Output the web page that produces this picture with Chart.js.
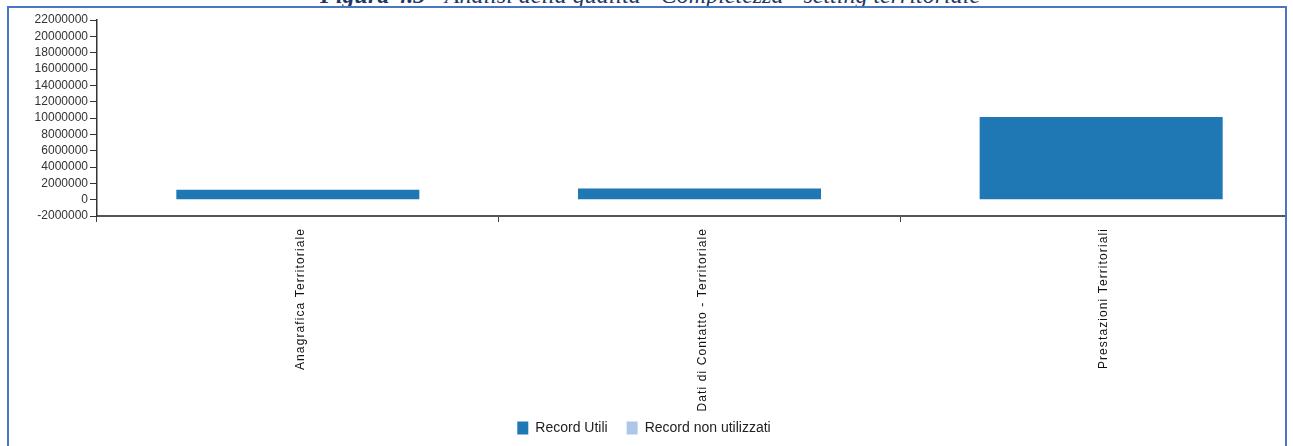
<!DOCTYPE html>
<html>
<head>
<meta charset="utf-8">
<script src="https://cdn.jsdelivr.net/npm/chart.js@4.4.1/dist/chart.umd.min.js"></script>
<style>
  html, body { margin: 0; padding: 0; background: #fff; }
  #wrap { position: relative; width: 1293px; height: 446px; overflow: hidden; }
  #frame { position: absolute; left: 7px; top: 6px; width: 1280px; height: 460px;
           border: 2px solid #4a74c4; border-bottom: none; box-sizing: border-box; }
  #cover { position: absolute; left: 1287px; top: 0; width: 20px; height: 446px; background: #fff; }
  #title { position: absolute; left: 0; width: 1300px; top: -18px; text-align: center; white-space: nowrap;
           font: italic 24px "Liberation Serif", "DejaVu Serif", serif; color: #1f3864; }
  #title b { font-weight: bold; }
  #chart { position: absolute; left: 0; top: 0; }
</style>
</head>
<body>
<div id="wrap">
  <div id="title"><b>Figura 4.3</b> - Analisi della qualità - Completezza - setting territoriale</div>
  <canvas id="chart" width="1302" height="446"></canvas>
  <div id="cover"></div>
  <div id="frame"></div>
</div>
<script>
var categories = ['Anagrafica Territoriale', 'Dati di Contatto - Territoriale', 'Prestazioni Territoriali'];
var recordUtili = [1220000, 1380000, 10120000];
var recordNonUtilizzati = [0, 0, 0];
var yMin = -2000000;
var yMax = 22000000;
var yStep = 2000000;

// spaced-out, unclipped category labels and a legend nudged left, like the original
var tweaks = {
    id: 'tweaks',
    afterLayout: function (chart) {
        var s = chart.scales.x;
        if (!s._spaced) {
            var orig = s.drawLabels;
            s._computeLabelArea = function () { return undefined; };
            s.drawLabels = function (area) {
                this.ctx.save();
                this.ctx.letterSpacing = '1.1px';
                orig.call(this, area);
                this.ctx.restore();
            };
            s._spaced = true;
        }
        var lg = chart.legend;
        if (lg && !lg._nudged) {
            var origDraw = lg.draw;
            lg.draw = function () {
                this.ctx.save();
                this.ctx.translate(-7, 0);
                origDraw.apply(this, arguments);
                this.ctx.restore();
            };
            lg._nudged = true;
        }
    }
};

var ctx = document.getElementById('chart');
var chart = new Chart(ctx, {
    type: 'bar',
    data: {
        labels: categories,
        datasets: [{
            label: 'Record Utili',
            data: recordUtili,
            backgroundColor: '#1f77b4',
            borderWidth: 0
        }, {
            label: 'Record non utilizzati',
            data: recordNonUtilizzati,
            backgroundColor: '#aec7e8',
            borderWidth: 0
        }]
    },
    options: {
        responsive: false,
        animation: false,
        barPercentage: 0.605,
        categoryPercentage: 1.0,
        layout: { padding: { top: 20, right: 0, left: 0, bottom: 1 } },
        scales: {
            x: {
                stacked: true,
                grid: { drawOnChartArea: false, tickLength: 6, color: '#444', offset: true },
                border: { color: '#555', width: 2 },
                ticks: {
                    minRotation: 90, maxRotation: 90, padding: 6, autoSkip: false, labelOffset: 3,
                    color: '#111', font: { family: 'Arial, "Liberation Sans"', size: 12 }
                },
                afterFit: function (scale) { scale.height = 186; }
            },
            y: {
                stacked: true,
                min: yMin,
                max: yMax,
                grid: { drawOnChartArea: false, tickLength: 7, color: '#333' },
                border: { color: '#333', width: 1.5 },
                ticks: {
                    stepSize: yStep, autoSkip: false, padding: 2,
                    color: '#333', font: { family: 'Arial, "Liberation Sans"', size: 12 },
                    callback: function (v) { return String(v); }
                },
                afterFit: function (scale) { scale.width = 97; }
            }
        },
        plugins: {
            tooltip: { enabled: false },
            legend: {
                position: 'bottom',
                labels: {
                    boxWidth: 11, boxHeight: 13, padding: 19,
                    color: '#222', font: { family: 'Arial, "Liberation Sans"', size: 14 }
                }
            }
        }
    },
    plugins: [tweaks]
});
</script>
</body>
</html>
